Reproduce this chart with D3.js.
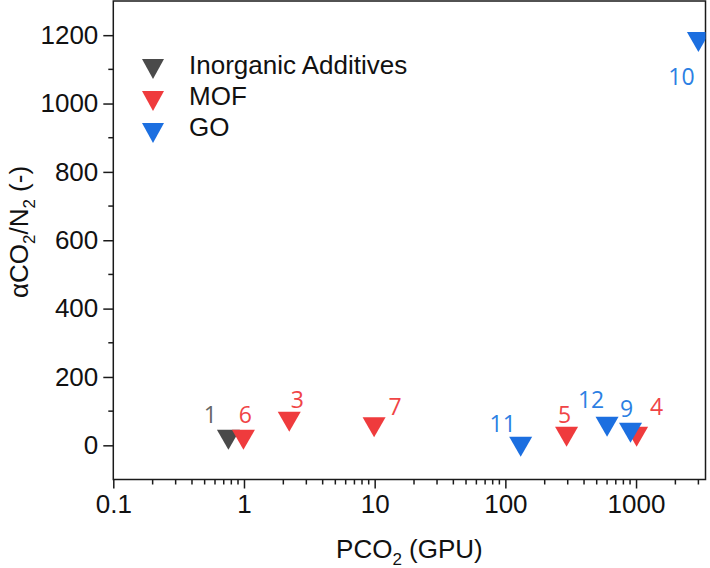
<!DOCTYPE html>
<html>
<head>
<meta charset="utf-8">
<script src="https://cdn.jsdelivr.net/npm/d3@7"></script>
<style>
  body { margin: 0; background: #fff; }
  svg { display: block; }
</style>
</head>
<body>
<div id="chart"></div>
<script>
// Series (PCO2 in GPU, selectivity CO2/N2)
const groups = ["Inorganic Additives", "MOF", "GO"];
const groupColors = ["#4a4a4a", "#ef3b3d", "#1c6fe0"];
const labelColors = ["#666666", "#f04446", "#2c7fe3"];

const pointGroup = [0, 1, 1, 1, 1, 1, 2, 2, 2, 2];
const pointName  = ["1", "6", "3", "7", "5", "4", "11", "12", "9", "10"];
const pco2       = [0.76, 0.99, 2.22, 9.9, 294, 1010, 131, 600, 907, 3000];
const alpha      = [16, 16, 69, 53, 25, 25, -4, 54, 37, 1180];

// label placement relative to the marker (px)
const labelDx = [-18, 2, 8, 21, -2, 20, -18, -16, -4, -17];
const labelDy = [-17, -17, -14, -12, -14, -22, -15, -19, -16, 43];

const xTicks = [0.1, 1, 10, 100, 1000];
const yTicks = [0, 200, 400, 600, 800, 1000, 1200];

const width = 710, height = 568;
const plotL = 113.3, plotR = 705.5, plotT = 1, plotB = 479.5;
const mainFont = "'Liberation Sans', Arial, sans-serif";

const svg = d3.select("#chart").append("svg")
    .attr("width", width)
    .attr("height", height)
    .style("font-family", mainFont);

const x = d3.scaleLog().domain([0.1, 3400]).range([plotL, plotR]);
const y = d3.scaleLinear().domain([-100, 1300]).range([plotB, plotT]);

// minor ticks
const xMinor = [];
[0.1, 1, 10, 100, 1000].forEach(d => {
    for (let k = 2; k <= 9; k++) {
        const v = d * k;
        if (v < 3400) xMinor.push(v);
    }
});
const yMinor = d3.range(100, 1200, 200);

const axisColor = "#1a1a1a";

// x axis
const gx = svg.append("g")
    .attr("transform", `translate(0,${plotB})`)
    .call(d3.axisBottom(x).tickValues(xTicks).tickSize(9).tickPadding(6)
        .tickFormat(d => String(d)));
gx.attr("font-family", null).attr("font-size", null);
gx.select(".domain").remove();
gx.selectAll(".tick line").attr("stroke", axisColor).attr("stroke-width", 1.5);
gx.selectAll(".tick text").attr("fill", "#111")
    .style("font-family", mainFont).style("font-size", "26px");

svg.append("g").selectAll("line").data(xMinor).join("line")
    .attr("x1", d => x(d)).attr("x2", d => x(d))
    .attr("y1", plotB).attr("y2", plotB + 5)
    .attr("stroke", axisColor).attr("stroke-width", 1.5);

// y axis
const gy = svg.append("g")
    .attr("transform", `translate(${plotL},0)`)
    .call(d3.axisLeft(y).tickValues(yTicks).tickSize(10).tickPadding(5)
        .tickFormat(d => String(d)));
gy.attr("font-family", null).attr("font-size", null);
gy.select(".domain").remove();
gy.selectAll(".tick line").attr("stroke", axisColor).attr("stroke-width", 1.5);
gy.selectAll(".tick text").attr("fill", "#111")
    .style("font-family", mainFont).style("font-size", "26px");

svg.append("g").selectAll("line").data(yMinor).join("line")
    .attr("x1", plotL - 5).attr("x2", plotL)
    .attr("y1", d => y(d)).attr("y2", d => y(d))
    .attr("stroke", axisColor).attr("stroke-width", 1.5);

// frame
svg.append("rect")
    .attr("x", plotL).attr("y", plotT)
    .attr("width", plotR - plotL).attr("height", plotB - plotT)
    .attr("fill", "none")
    .attr("stroke", axisColor)
    .attr("stroke-width", 1.5);

// markers, clipped to the plot area
svg.append("clipPath").attr("id", "plot-clip")
    .append("rect")
    .attr("x", plotL).attr("y", plotT)
    .attr("width", plotR - plotL).attr("height", plotB - plotT);

const tri = (w, h) => `M${-w / 2},${-h / 2}L${w / 2},${-h / 2}L0,${h / 2}Z`;

const idx = d3.range(pco2.length);

svg.append("g")
    .attr("clip-path", "url(#plot-clip)")
    .selectAll("path")
    .data(idx)
    .join("path")
    .attr("d", tri(23, 20))
    .attr("transform", i => `translate(${x(pco2[i])},${y(alpha[i])})`)
    .attr("fill", i => groupColors[pointGroup[i]]);

svg.append("g")
    .selectAll("text")
    .data(idx)
    .join("text")
    .attr("x", i => x(pco2[i]) + labelDx[i])
    .attr("y", i => y(alpha[i]) + labelDy[i])
    .attr("text-anchor", "middle")
    .attr("fill", i => labelColors[pointGroup[i]])
    .style("font-family", "'Open Sans', 'Noto Sans', sans-serif")
    .style("font-size", "23px")
    .text(i => pointName[i]);

// legend
const legend = svg.append("g").attr("transform", "translate(153,69)");
groups.forEach((g, i) => {
    const row = legend.append("g").attr("transform", `translate(0,${i * 32})`);
    row.append("path")
        .attr("d", tri(22, 20))
        .attr("fill", groupColors[i]);
    row.append("text")
        .attr("x", 36)
        .attr("y", 5 - i * 1)
        .attr("fill", "#111")
        .style("font-size", "26px")
        .text(g);
});

// axis titles
const xt = svg.append("text")
    .attr("x", (plotL + plotR) / 2)
    .attr("y", 558)
    .attr("text-anchor", "middle")
    .attr("fill", "#111")
    .style("font-size", "26px");
xt.append("tspan").text("PCO");
xt.append("tspan").attr("dy", 7).style("font-size", "17px").text("2");
xt.append("tspan").attr("dy", -7).text(" (GPU)");

const yt = svg.append("text")
    .attr("transform", "translate(28,232) rotate(-90)")
    .attr("text-anchor", "middle")
    .attr("fill", "#111")
    .style("font-size", "26px");
yt.append("tspan").text("αCO");
yt.append("tspan").attr("dy", 7).style("font-size", "17px").text("2");
yt.append("tspan").attr("dy", -7).text("/N");
yt.append("tspan").attr("dy", 7).style("font-size", "17px").text("2");
yt.append("tspan").attr("dy", -7).text(" (-)");
</script>
</body>
</html>
